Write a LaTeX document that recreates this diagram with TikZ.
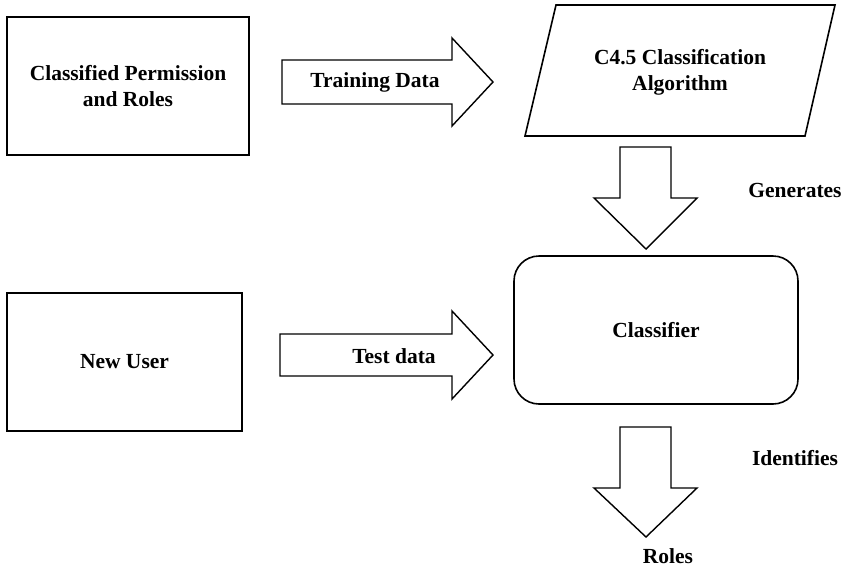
\documentclass[tikz,border=0pt]{standalone}
\usepackage{fontspec}
\setmainfont{Liberation Serif}
\begin{document}
\begin{tikzpicture}[x=1pt,y=-1pt,
  txt/.style={font=\bfseries\fontsize{21.5}{26}\selectfont, align=center, inner sep=0pt},
  box/.style={draw, line width=1.6pt, txt},
  blockarrow/.style={draw, line width=1.4pt, line join=miter}]
\path[use as bounding box] (0,0) rectangle (856,573);
% boxes
\node[box, minimum width=242pt, minimum height=138pt] (cpr) at (128,86) {Classified Permission\\and Roles};
\node[box, minimum width=235pt, minimum height=138pt] (user) at (124.5,362) {New User};
\node[box, rounded corners=25pt, minimum width=284pt, minimum height=148pt] (clf) at (656,330) {Classifier};
\node[txt] (algo) at (680,72) {C4.5 Classification\\Algorithm};
\draw[line width=1.6pt] (556,5) -- (835,5) -- (805,136) -- (525,136) -- cycle;
% block arrows
\draw[blockarrow] (282,60) -- (452,60) -- (452,38) -- (493,82) -- (452,126) -- (452,104) -- (282,104) -- cycle;
\draw[blockarrow] (280,334) -- (452,334) -- (452,311) -- (493,355) -- (452,399) -- (452,376) -- (280,376) -- cycle;
\draw[blockarrow] (620,147) -- (671,147) -- (671,198) -- (697,198) -- (646,249) -- (594,198) -- (620,198) -- cycle;
\draw[blockarrow] (620,427) -- (671,427) -- (671,488) -- (697,488) -- (646,537) -- (594,488) -- (620,488) -- cycle;
% labels
\node[txt] (train) at (375,82) {Training Data};
\node[txt] (test) at (394,356) {Test data};
\node[txt] (gen) at (795,190) {Generates};
\node[txt] (ident) at (795,458) {Identifies};
\node[txt] (roles) at (668,556) {Roles};
\end{tikzpicture}
\end{document}
